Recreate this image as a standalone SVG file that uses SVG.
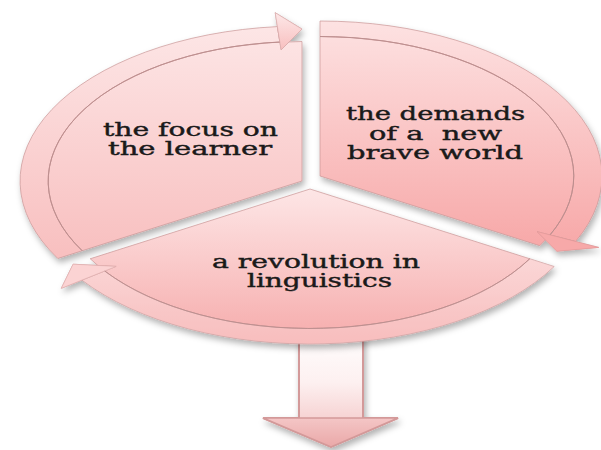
<svg xmlns="http://www.w3.org/2000/svg" width="601" height="450" viewBox="0 0 601 450">
  <defs>
    <linearGradient id="gLeft" x1="0" y1="0" x2="0" y2="1">
      <stop offset="0" stop-color="#fde8e8"/>
      <stop offset="1" stop-color="#f8bfbf"/>
    </linearGradient>
    <linearGradient id="gRight" x1="0" y1="0" x2="0" y2="1">
      <stop offset="0" stop-color="#fde2e2"/>
      <stop offset="1" stop-color="#f7a7a7"/>
    </linearGradient>
    <linearGradient id="gBottom" x1="0" y1="0" x2="0" y2="1">
      <stop offset="0" stop-color="#fde6e6"/>
      <stop offset="1" stop-color="#f6abab"/>
    </linearGradient>
    <linearGradient id="gStem" x1="0" y1="0" x2="0" y2="1">
      <stop offset="0" stop-color="#ffffff"/>
      <stop offset="0.45" stop-color="#fdf0f0"/>
      <stop offset="1" stop-color="#f1bcbc"/>
    </linearGradient>
    <linearGradient id="gHead" x1="0" y1="0" x2="0" y2="1">
      <stop offset="0" stop-color="#f4c6c6"/>
      <stop offset="1" stop-color="#eaa8a8"/>
    </linearGradient>
    <filter id="shadow" x="-10%" y="-10%" width="125%" height="130%">
      <feDropShadow dx="2" dy="4" stdDeviation="3" flood-color="#000" flood-opacity="0.3"/>
    </filter>
  </defs>
  <style>
    .seg { stroke: #c99595; stroke-width: 0.7; stroke-linejoin: round; }
    .rim { fill: none; stroke: #b58a8a; stroke-width: 1; stroke-opacity: 0.75; }
    .lbl { font-family: "DejaVu Serif", "Liberation Serif", serif; font-size: 18px; fill: #1a1a1a; stroke: #1a1a1a; stroke-width: 0.4; }
  </style>

  <rect width="601" height="450" fill="#ffffff"/>

  <!-- outgoing arrow below the cycle -->
  <g id="connectors" filter="url(#shadow)">
    <path d="M299,330 L363,330 L363,418 L398,418 L331,447 L263,418 L299,418 Z" fill="url(#gStem)" stroke="#d39999" stroke-width="2"/>
    <path d="M263,418 L299,418 L363,418 L398,418 L331,447 Z" fill="url(#gHead)" stroke="#d39999" stroke-width="1.5"/>
  </g>

  <!-- segment: the focus on the learner -->
  <g id="node-focus">
    <path class="seg" filter="url(#shadow)" fill="url(#gLeft)" d="
      M302,181 L82.2,250.75 A253.8,139.5 0 0,1 302,41.5 Z
      M82.2,250.75 L57.8,258.5 A282,155 0 0,1 277.4,26.6 L279.9,42.0 A253.8,139.5 0 0,0 82.2,250.75 Z
      M281.1,49.8 L275.2,12.7 L302,29.1 Z"/>
    <path class="rim" d="M82.2,250.75 A253.8,139.5 0 0,1 279.9,42.0"/>
    <path d="M281.1,49.8 L275.2,12.7 L302,29.1 Z" fill="url(#gLeft)" stroke="#d8aaaa" stroke-width="0.6"/>
    <text class="lbl" x="103" y="136" textLength="175" lengthAdjust="spacingAndGlyphs">the focus on</text>
    <text class="lbl" x="108" y="155" textLength="164" lengthAdjust="spacingAndGlyphs">the learner</text>
  </g>

  <!-- segment: the demands of a new brave world -->
  <g id="node-demands">
    <path class="seg" filter="url(#shadow)" fill="url(#gRight)" d="
      M320,176 L320,36.5 A253.8,139.5 0 0,1 539.8,245.75 Z
      M320,36.5 L320,21 A282,155 0 0,1 575.6,241.5 L550.0,234.95 A253.8,139.5 0 0,0 320,36.5 Z
      M537.2,231.7 L598.6,247.4 L556.9,251.2 Z"/>
    <path class="rim" d="M320,36.5 A253.8,139.5 0 0,1 550.0,234.95"/>
    <path d="M537.2,231.7 L598.6,247.4 L556.9,251.2 Z" fill="#f7a9a9" stroke="#e79a9a" stroke-width="0.6"/>
    <text class="lbl" x="346" y="120" textLength="179" lengthAdjust="spacingAndGlyphs">the demands</text>
    <text class="lbl" x="369" y="140" textLength="133" lengthAdjust="spacingAndGlyphs" xml:space="preserve">of a  new</text>
    <text class="lbl" x="347" y="159" textLength="176" lengthAdjust="spacingAndGlyphs">brave world</text>
  </g>

  <!-- segment: a revolution in linguistics -->
  <g id="node-revolution">
    <path class="seg" filter="url(#shadow)" fill="url(#gBottom)" d="
      M310,189 L529.8,258.75 A253.8,139.5 0 0,1 90.2,258.75 Z
      M529.8,258.75 L554.2,266.5 A282,155 0 0,1 81.9,280.1 L104.7,271.0 A253.8,139.5 0 0,0 529.8,258.75 Z
      M116.1,266.4 L61.3,288.3 L73.1,264.2 Z"/>
    <path d="M529.8,258.75 L554.2,266.5 A282,155 0 0,1 81.9,280.1 L104.7,271.0 A253.8,139.5 0 0,0 529.8,258.75 Z" fill="#ffffff" fill-opacity="0.22"/>
    <path d="M116.1,266.4 L61.3,288.3 L73.1,264.2 Z" fill="#fbd3d3" stroke="#e2b0b0" stroke-width="0.6"/>
    <path class="rim" d="M529.8,258.75 A253.8,139.5 0 0,1 104.7,271.0" stroke-opacity="0.4"/>
    <text class="lbl" x="212" y="268" textLength="208" lengthAdjust="spacingAndGlyphs">a revolution in</text>
    <text class="lbl" x="247" y="287" textLength="145" lengthAdjust="spacingAndGlyphs">linguistics</text>
  </g>
</svg>
